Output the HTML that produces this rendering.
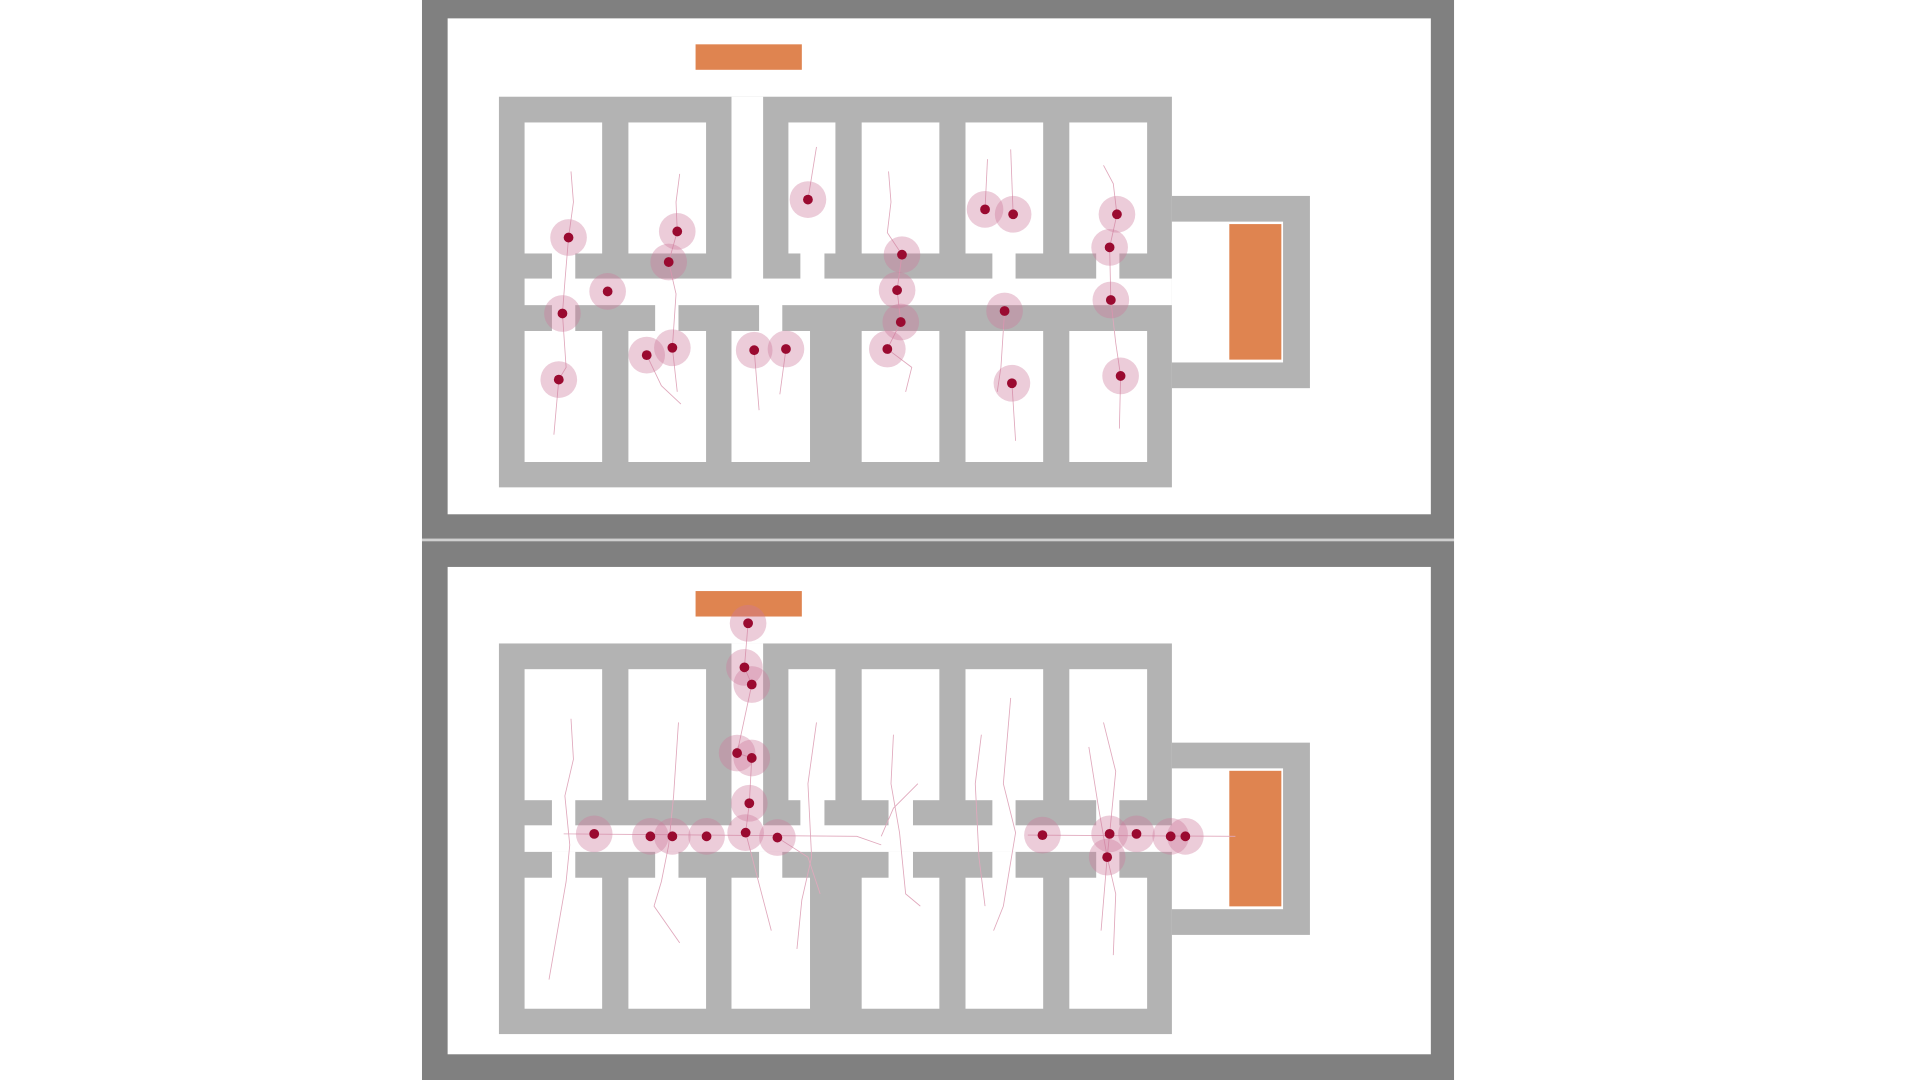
<!DOCTYPE html>
<html><head><meta charset="utf-8"><style>
html,body{margin:0;padding:0;background:#fff;width:1920px;height:1080px;overflow:hidden}
svg{display:block}
</style></head><body>
<svg width="1920" height="1080" viewBox="-1.5 0 1572 882" preserveAspectRatio="none" xmlns="http://www.w3.org/2000/svg">
<defs>
<g id="bld">
  <rect x="407" y="79" width="551" height="319" fill="#b3b3b3"/>
  <rect x="958" y="160" width="113" height="157" fill="#b3b3b3"/>
  <rect x="958" y="181" width="91" height="115" fill="#fff"/>
  <g fill="#fff">
    <rect x="428" y="100" width="63.5" height="107"/>
    <rect x="513" y="100" width="63.6" height="107"/>
    <rect x="644" y="100" width="38.5" height="107"/>
    <rect x="704" y="100" width="63.6" height="107"/>
    <rect x="789" y="100" width="63.6" height="107"/>
    <rect x="874" y="100" width="63.7" height="107"/>
    <rect x="597.4" y="79" width="25.9" height="149"/>
    <rect x="428" y="227.5" width="530" height="21.7"/>
    <rect x="428" y="270.3" width="63.5" height="107"/>
    <rect x="513" y="270.3" width="63.6" height="107"/>
    <rect x="597.4" y="270.3" width="64.3" height="107"/>
    <rect x="704" y="270.3" width="63.6" height="107"/>
    <rect x="789" y="270.3" width="63.6" height="107"/>
    <rect x="874" y="270.3" width="63.7" height="107"/>
    <rect x="450.4" y="206" width="19.1" height="22"/>
    <rect x="653.8" y="206" width="19.7" height="22"/>
    <rect x="811" y="206" width="19" height="22"/>
    <rect x="896" y="206" width="19" height="22"/>
    <rect x="450.4" y="249" width="19.1" height="22"/>
    <rect x="534.9" y="249" width="19.1" height="22"/>
    <rect x="620" y="249" width="19" height="22"/>
  </g>
  <rect x="568" y="36.2" width="87" height="20.8" fill="#df8450"/>
  <rect x="1005" y="183" width="42.6" height="110.7" fill="#df8450"/>
</g>
</defs>

<!-- top panel -->
<rect x="344" y="0" width="845" height="440" fill="#808080"/>
<rect x="365" y="15" width="805" height="405" fill="#fff"/>
<use href="#bld"/>
<!-- bottom panel -->
<rect x="344" y="440" width="845" height="2" fill="#d0d0d0"/>
<rect x="344" y="442" width="845" height="440" fill="#808080"/>
<rect x="365" y="463" width="805" height="398" fill="#fff"/>
<g transform="translate(0,446.5)">
  <use href="#bld"/>
  <g fill="#fff">
    <rect x="726" y="206" width="20" height="22"/>
    <rect x="726" y="249" width="20" height="22"/>
    <rect x="811" y="249" width="19" height="22"/>
    <rect x="896" y="249" width="19" height="22"/>
  </g>
</g>

<!-- top trails -->
<g stroke="#e0a8bc" stroke-width="0.7" fill="none">
<polyline points="466,140 468,165 464,194 461,230 459,256 462,300 456,310 452,355"/>
<polyline points="555,142 552,165 553,189 546,214 552,240 549,284 553,320"/>
<polyline points="528,290 540,315 556,330"/>
<polyline points="667,120 660,163"/>
<polyline points="726,140 728,165 725,190 737,208 733,237 736,263 725,285 745,300 740,320"/>
<polyline points="807,130 805,171"/>
<polyline points="826,122 828,175"/>
<polyline points="902,135 910,150 913,175 907,202 908,245 912,280 916,307 915,350"/>
<polyline points="821,254 818,300 815,320"/>
<polyline points="827,313 830,360"/>
<polyline points="616,286 620,335"/>
<polyline points="642,285 637,322"/>
</g>
<!-- bottom trails -->
<g stroke="#e0a8bc" stroke-width="0.7" fill="none">
<polyline points="466,587 468,620 461,650 465,690 462,720 448,800"/>
<polyline points="554,590 552,620 550,650 546,690 540,720 534,740 555,770"/>
<polyline points="611,509 608,545 614,559 602,615 614,619 612,656 609,680 630,760"/>
<polyline points="667,590 660,640 663,700 655,735 651,775"/>
<polyline points="730,600 728,640 735,680 740,730 752,740"/>
<polyline points="826,570 820,640 830,680 820,740 812,760"/>
<polyline points="802,600 797,640 800,700 805,740"/>
<polyline points="902,590 912,630 907,681 905,700 912,730 910,780"/>
<polyline points="890,610 898,660 905,700 900,760"/>
<polyline points="460,681 700,683 720,690"/>
<polyline points="840,682 1010,683"/>
<polyline points="635,684 660,700 670,730"/>
<polyline points="750,640 730,660 720,683"/>
</g>

<!-- halos + dots -->
<g fill="rgba(205,120,155,0.38)">
<circle cx="464" cy="194" r="15"/><circle cx="553" cy="189" r="15"/><circle cx="546" cy="214" r="15"/>
<circle cx="496" cy="238" r="15"/><circle cx="459" cy="256" r="15"/><circle cx="456" cy="310" r="15"/>
<circle cx="528" cy="290" r="15"/><circle cx="549" cy="284" r="15"/><circle cx="616" cy="286" r="15"/>
<circle cx="642" cy="285" r="15"/><circle cx="660" cy="163" r="15"/><circle cx="737" cy="208" r="15"/>
<circle cx="733" cy="237" r="15"/><circle cx="736" cy="263" r="15"/><circle cx="725" cy="285" r="15"/>
<circle cx="805" cy="171" r="15"/><circle cx="828" cy="175" r="15"/><circle cx="913" cy="175" r="15"/>
<circle cx="907" cy="202" r="15"/><circle cx="908" cy="245" r="15"/><circle cx="821" cy="254" r="15"/>
<circle cx="916" cy="307" r="15"/><circle cx="827" cy="313" r="15"/>
<circle cx="611" cy="509" r="15"/><circle cx="608" cy="545" r="15"/><circle cx="614" cy="559" r="15"/>
<circle cx="602" cy="615" r="15"/><circle cx="614" cy="619" r="15"/><circle cx="612" cy="656" r="15"/>
<circle cx="609" cy="680" r="15"/><circle cx="635" cy="684" r="15"/><circle cx="485" cy="681" r="15"/>
<circle cx="531" cy="683" r="15"/><circle cx="549" cy="683" r="15"/><circle cx="577" cy="683" r="15"/>
<circle cx="852" cy="682" r="15"/><circle cx="907" cy="681" r="15"/><circle cx="929" cy="681" r="15"/>
<circle cx="957" cy="683" r="15"/><circle cx="969" cy="683" r="15"/><circle cx="905" cy="700" r="15"/>
</g>
<g fill="#9a0a30">
<circle cx="464" cy="194" r="4"/><circle cx="553" cy="189" r="4"/><circle cx="546" cy="214" r="4"/>
<circle cx="496" cy="238" r="4"/><circle cx="459" cy="256" r="4"/><circle cx="456" cy="310" r="4"/>
<circle cx="528" cy="290" r="4"/><circle cx="549" cy="284" r="4"/><circle cx="616" cy="286" r="4"/>
<circle cx="642" cy="285" r="4"/><circle cx="660" cy="163" r="4"/><circle cx="737" cy="208" r="4"/>
<circle cx="733" cy="237" r="4"/><circle cx="736" cy="263" r="4"/><circle cx="725" cy="285" r="4"/>
<circle cx="805" cy="171" r="4"/><circle cx="828" cy="175" r="4"/><circle cx="913" cy="175" r="4"/>
<circle cx="907" cy="202" r="4"/><circle cx="908" cy="245" r="4"/><circle cx="821" cy="254" r="4"/>
<circle cx="916" cy="307" r="4"/><circle cx="827" cy="313" r="4"/>
<circle cx="611" cy="509" r="4"/><circle cx="608" cy="545" r="4"/><circle cx="614" cy="559" r="4"/>
<circle cx="602" cy="615" r="4"/><circle cx="614" cy="619" r="4"/><circle cx="612" cy="656" r="4"/>
<circle cx="609" cy="680" r="4"/><circle cx="635" cy="684" r="4"/><circle cx="485" cy="681" r="4"/>
<circle cx="531" cy="683" r="4"/><circle cx="549" cy="683" r="4"/><circle cx="577" cy="683" r="4"/>
<circle cx="852" cy="682" r="4"/><circle cx="907" cy="681" r="4"/><circle cx="929" cy="681" r="4"/>
<circle cx="957" cy="683" r="4"/><circle cx="969" cy="683" r="4"/><circle cx="905" cy="700" r="4"/>
</g>
</svg>
</body></html>
